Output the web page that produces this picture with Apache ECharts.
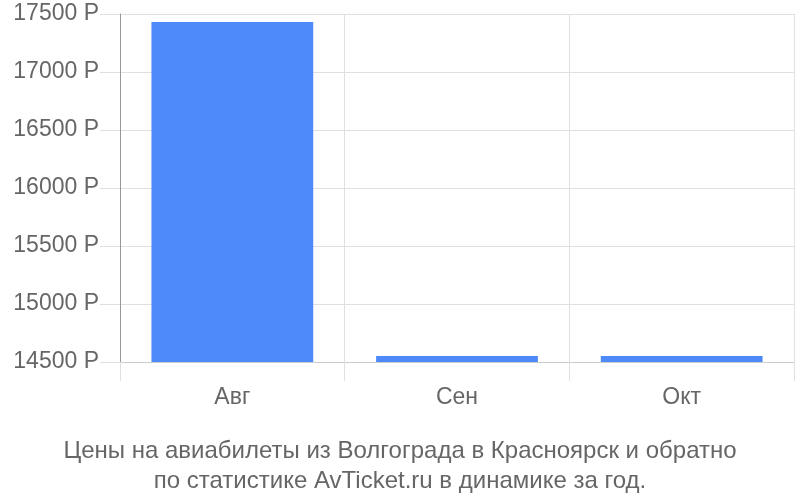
<!DOCTYPE html>
<html><head><meta charset="utf-8">
<script src="https://cdn.jsdelivr.net/npm/echarts@6/dist/echarts.min.js"></script>
<style>html,body{margin:0;padding:0;background:#fff}#c{width:800px;height:500px}</style>
</head><body><div id="c"></div>
<script>
const categories = ['Авг', 'Сен', 'Окт'];
const prices = [17430, 14552, 14552];
const yTicks = { min: 14500, max: 17500, step: 500 };
const titleLines = ['Цены на авиабилеты из Волгограда в Красноярск и обратно', 'по статистике AvTicket.ru в динамике за год.'];

const chart = echarts.init(document.getElementById('c'), null, { renderer: 'canvas' });
chart.setOption({
  animation: false,
  textStyle: { fontFamily: 'Liberation Sans, Arial, sans-serif' },
  title: {
    text: titleLines.join('\n'),
    left: 'center', top: 431,
    textStyle: { fontSize: 24, fontWeight: 'normal', color: '#666', lineHeight: 30, fontFamily: 'Liberation Sans, Arial, sans-serif' }
  },
  grid: { left: 120, right: 6, top: 14, bottom: 138 },
  xAxis: {
    type: 'category', data: categories, boundaryGap: true,
    axisLine: { show: true, lineStyle: { color: '#ccc', width: 1 } },
    axisTick: { show: true, length: 19, lineStyle: { color: '#e0e0e0' } },
    splitLine: { show: true, lineStyle: { color: '#e0e0e0' } },
    axisLabel: { fontSize: 23, color: '#666', margin: 24 }
  },
  yAxis: {
    type: 'value', min: yTicks.min, max: yTicks.max, interval: yTicks.step,
    axisLine: { show: true, lineStyle: { color: '#999' } },
    axisTick: { show: true, length: 20, lineStyle: { color: '#e0e0e0' } },
    splitLine: { show: true, lineStyle: { color: '#e0e0e0' } },
    axisLabel: { fontSize: 23, color: '#666', margin: 21, formatter: v => v + ' Р' }
  },
  series: [{
    type: 'bar', data: prices, barWidth: '72%',
    itemStyle: { color: '#4d89f9' }
  }]
});
</script></body></html>
